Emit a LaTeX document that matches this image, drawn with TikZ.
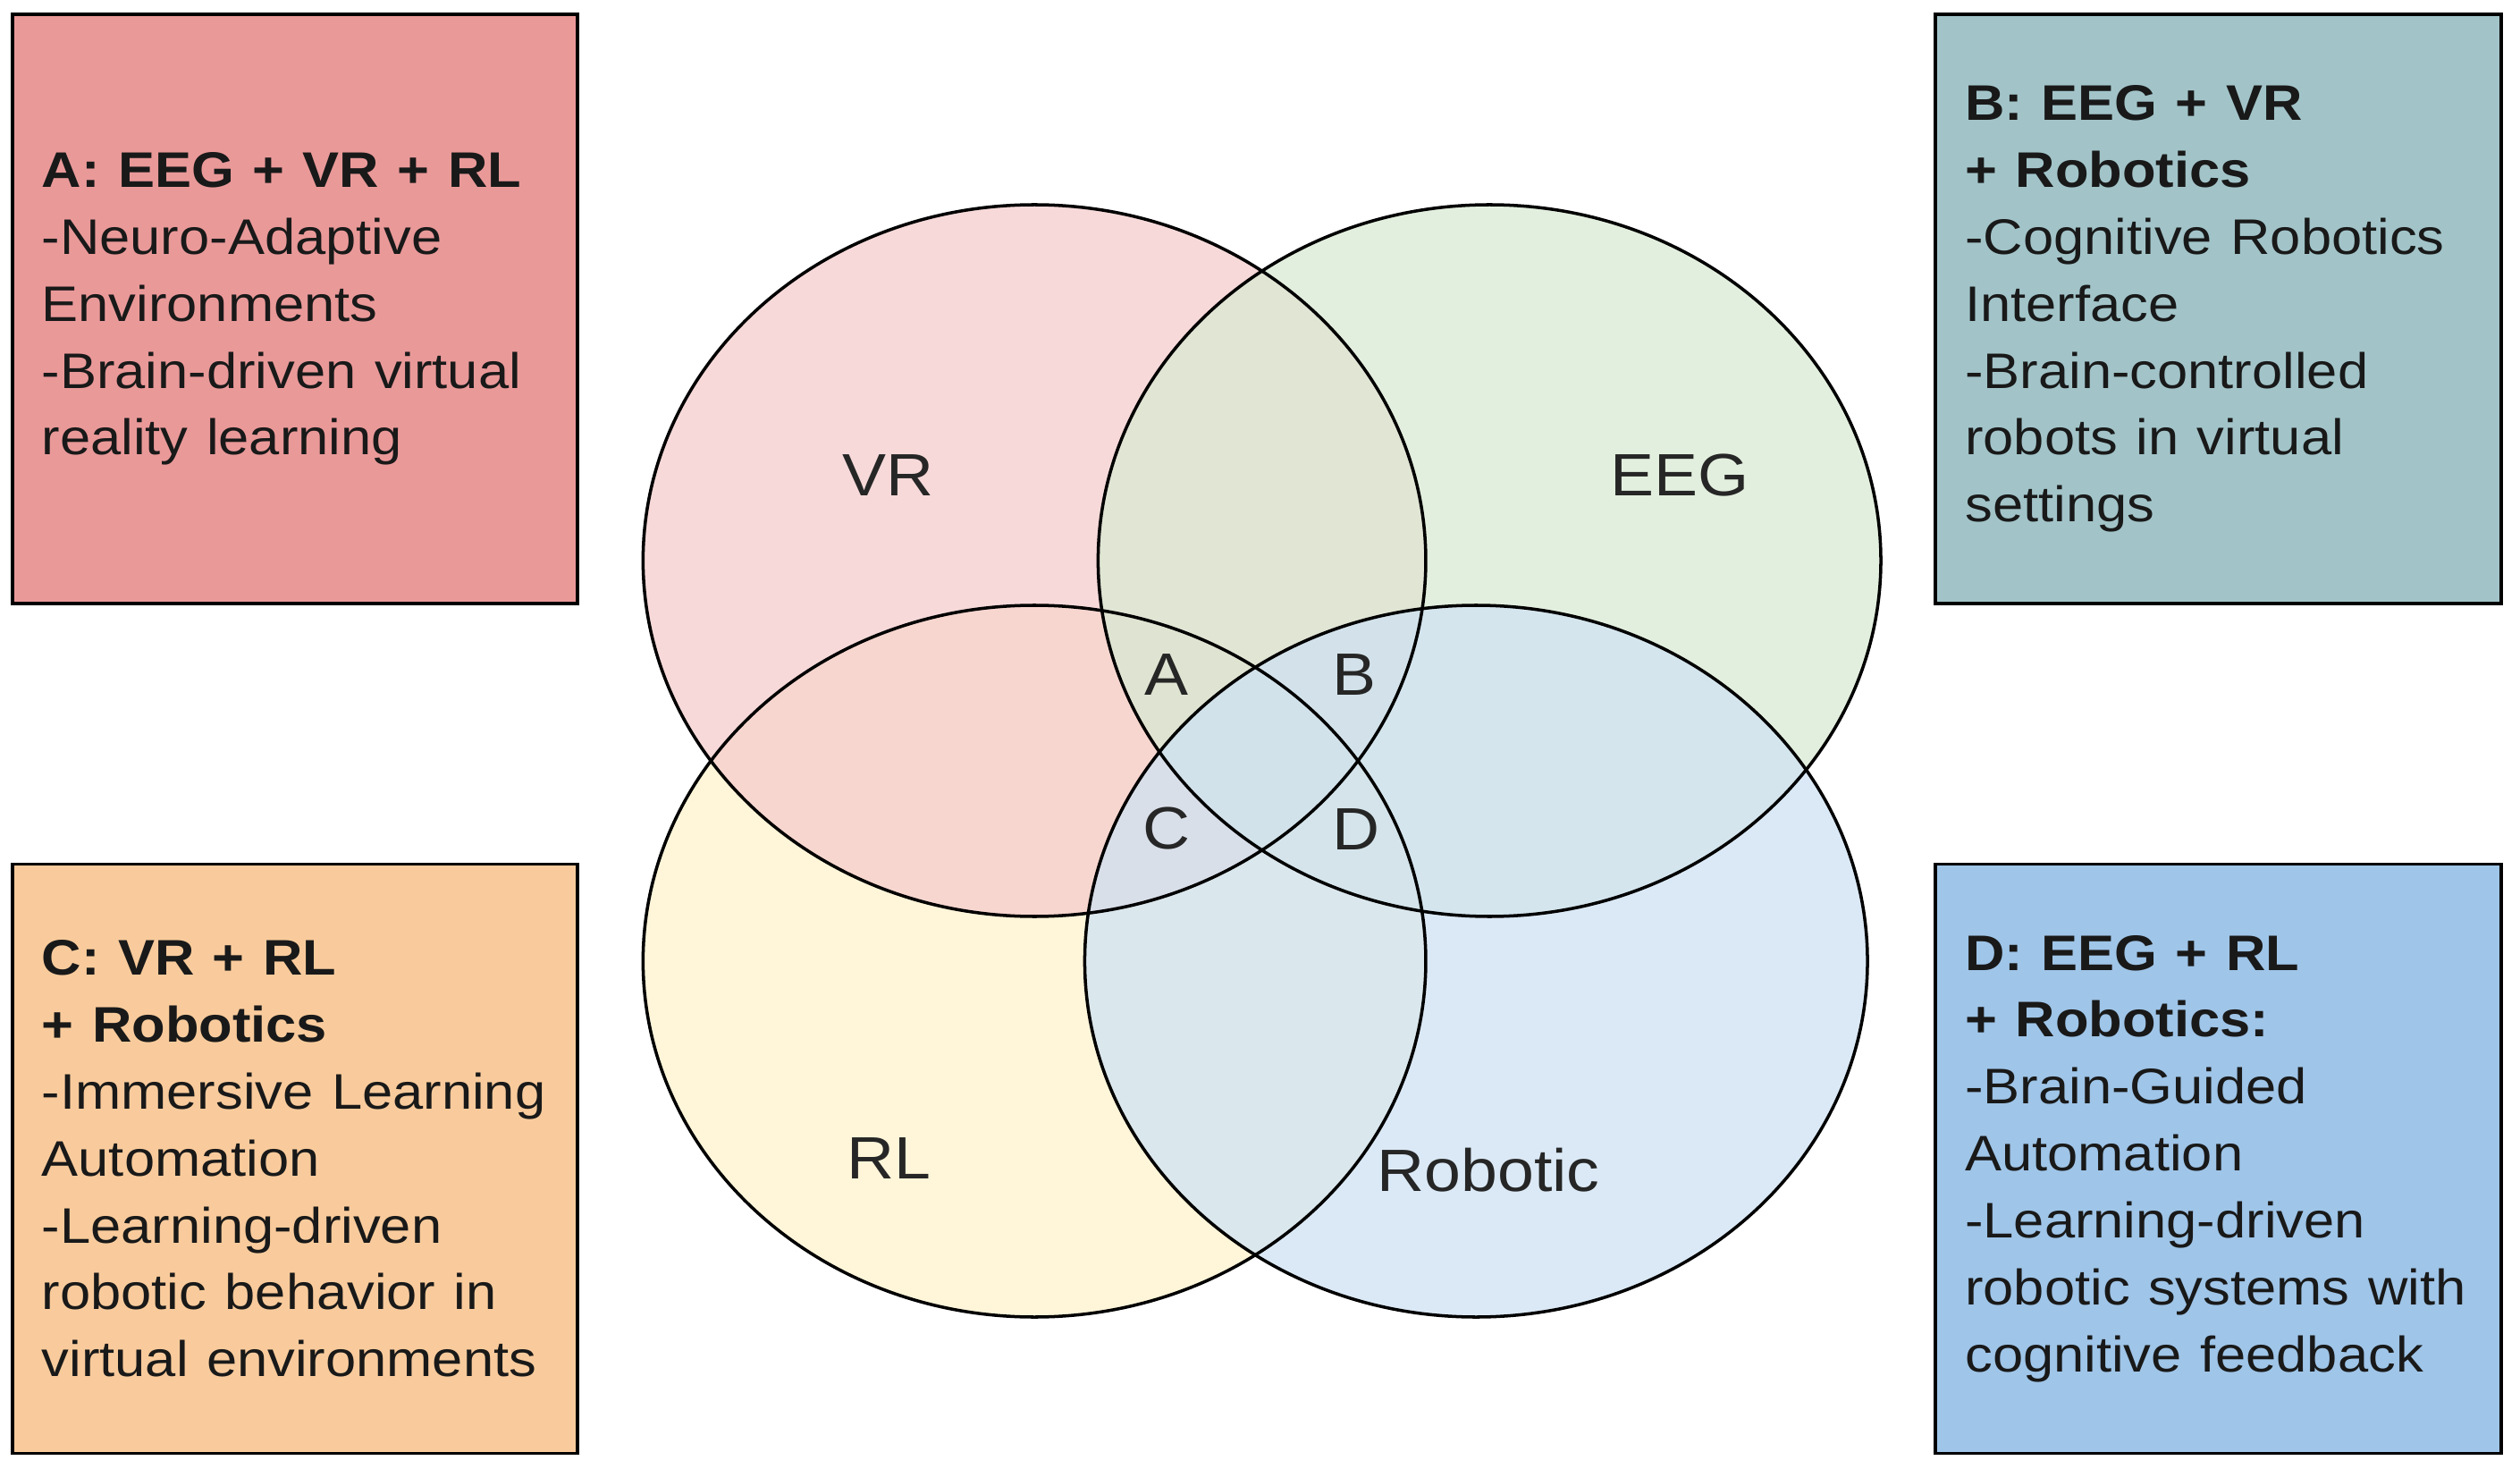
\documentclass[tikz,border=0pt]{standalone}
\usepackage{fontspec}
\setmainfont{Liberation Sans}
\usetikzlibrary{positioning}

\definecolor{vrfill}{HTML}{F4CCCC}
\definecolor{eegfill}{HTML}{D9EAD3}
\definecolor{rlfill}{HTML}{FFF2CC}
\definecolor{robfill}{HTML}{CFE2F3}
\definecolor{boxa}{HTML}{EA9999}
\definecolor{boxb}{HTML}{A2C4C9}
\definecolor{boxc}{HTML}{F9CB9C}
\definecolor{boxd}{HTML}{9FC5E8}

\begin{document}
\begin{tikzpicture}[xscale=1.1,every node/.append style={transform shape},
    venn/.style={circle,minimum size=7.96cm,inner sep=0pt,fill opacity=0.75},
    vennring/.style={circle,draw=black,line width=1pt,minimum size=7.96cm,inner sep=0pt},
    vennlabel/.style={font=\fontsize{19}{23}\selectfont,text=black!85},
    infobox/.style={draw=black,line width=1.1pt,minimum width=5.745cm,minimum height=6.59cm,
      text width=5.15cm,inner xsep=0.3cm,align=left,text=black!90,
      font=\fontsize{15.9}{21.3}\selectfont}]
  \useasboundingbox (0,0) rectangle (25.627,16.42);

  \node[venn,fill=rlfill]  (rl)  at (10.518,5.67)  {};
  \node[venn,fill=vrfill]  (vr)  at (10.518,10.15) {};
  \node[venn,fill=eegfill] (eeg) at (15.145,10.15) {};
  \node[venn,fill=robfill] (rob) at (15.009,5.67)  {};
  \foreach \s in {rl,vr,eeg,rob}
    \node[vennring] (\s ring) at (\s) {};

  \node[vennlabel] (vrname)  at (9.036,11.10)  {VR};
  \node[vennlabel] (eegname) at (17.082,11.10) {EEG};
  \node[vennlabel] (rlname)  at (9.036,3.46)   {RL};
  \node[vennlabel] (robname) at (15.136,3.33)  {Robotic};

  \node[vennlabel] (za) at (11.864,8.87) {A};
  \node[vennlabel] (zb) at (13.773,8.87) {B};
  \node[vennlabel] (zc) at (11.864,7.15) {C};
  \node[vennlabel] (zd) at (13.790,7.14) {D};

  \node[infobox,fill=boxa] (boxA) at (3.0,12.965) {\textbf{A: EEG + VR + RL}\\
    -Neuro-Adaptive\\ Environments\\ -Brain-driven virtual\\ reality learning};
  \node[infobox,fill=boxb] (boxB) at (22.559,12.965) {\textbf{B: EEG + VR}\\ \textbf{+ Robotics}\\
    -Cognitive Robotics\\ Interface\\ -Brain-controlled\\ robots in virtual\\ settings};
  \node[infobox,fill=boxc] (boxC) at (3.0,3.46) {\textbf{C: VR + RL}\\ \textbf{+ Robotics}\\
    -Immersive Learning\\ Automation\\ -Learning-driven\\ robotic behavior in\\ virtual environments};
  \node[infobox,fill=boxd] (boxD) at (22.559,3.46) {\textbf{D: EEG + RL}\\ \textbf{+ Robotics:}\\
    -Brain-Guided\\ Automation\\ -Learning-driven\\ robotic systems with\\ cognitive feedback};
\end{tikzpicture}
\end{document}
